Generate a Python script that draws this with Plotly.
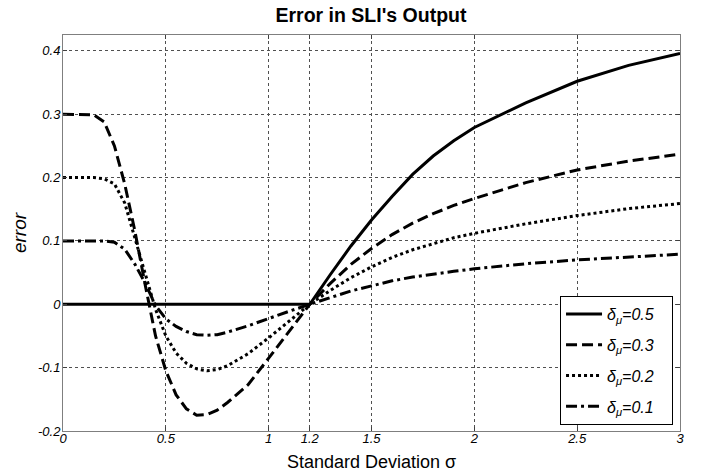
import plotly.graph_objects as go

sigma = [0, 0.1, 0.15, 0.2, 0.25, 0.3, 0.35, 0.4, 0.45, 0.5, 0.55, 0.6, 0.65, 0.7, 0.75, 0.8,
         0.9, 1.0, 1.1, 1.2, 1.3, 1.4, 1.5, 1.6, 1.7, 1.8, 1.9, 2.0, 2.25, 2.5, 2.75, 3.0]

err_05 = [0, 0, 0, 0, 0, 0, 0, 0, 0, 0, 0, 0, 0, 0, 0, 0,
          0, 0, 0, 0, 0.047, 0.092, 0.133, 0.17, 0.205, 0.234, 0.258, 0.279, 0.318, 0.352, 0.377, 0.396]
err_03 = [0.3, 0.3, 0.299, 0.288, 0.25, 0.19, 0.115, 0.03, -0.05, -0.105, -0.143, -0.165, -0.175, -0.174, -0.167, -0.155,
          -0.127, -0.085, -0.043, 0, 0.033, 0.063, 0.088, 0.11, 0.128, 0.143, 0.156, 0.167, 0.192, 0.212, 0.226, 0.237]
err_02 = [0.2, 0.2, 0.2, 0.198, 0.19, 0.16, 0.105, 0.048, -0.008, -0.05, -0.077, -0.093, -0.102, -0.105, -0.103, -0.097,
          -0.078, -0.053, -0.027, 0, 0.022, 0.042, 0.059, 0.074, 0.086, 0.096, 0.105, 0.112, 0.127, 0.14, 0.151, 0.159]
err_01 = [0.1, 0.1, 0.1, 0.1, 0.098, 0.087, 0.063, 0.033, -0.002, -0.023, -0.035, -0.043, -0.048, -0.049, -0.048, -0.044,
          -0.034, -0.022, -0.011, 0, 0.011, 0.021, 0.029, 0.037, 0.043, 0.048, 0.052, 0.056, 0.064, 0.07, 0.075, 0.079]

labels = ["0.5", "0.3", "0.2", "0.1"]
series = [err_05, err_03, err_02, err_01]
dashes = ["solid", "11px,5px", "3px,3px", "11px,4px,3px,4px"]

x_ticks = [0, 0.5, 1, 1.2, 1.5, 2, 2.5, 3]
x_ticktext = ["0", "0.5", "1", "1.2", "1.5", "2", "2.5", "3"]
y_ticks = [-0.2, -0.1, 0, 0.1, 0.2, 0.3, 0.4]
y_ticktext = ["-0.2", "-0.1", "0", "0.1", "0.2", "0.3", "0.4"]

fig = go.Figure()
for lab, ys, d in zip(labels, series, dashes):
    fig.add_trace(go.Scatter(
        x=sigma, y=ys, mode="lines",
        line=dict(color="black", width=3, dash=d),
        name="<i>δ</i><sub><i>μ</i></sub><i>=" + lab + "</i>&nbsp;&nbsp;&nbsp;",
        legendgroup=lab,
    ))

axis_common = dict(
    showline=True, linecolor="#7f7f7f", linewidth=1, mirror="ticks",
    ticks="inside", ticklen=4, tickcolor="#404040",
    showgrid=True, gridcolor="#505050", gridwidth=1, griddash="dot",
    zeroline=False, automargin=False,
    tickfont=dict(family="Liberation Sans, Arial", size=13, color="black", style="italic"),
)

fig.update_layout(
    width=708, height=476,
    margin=dict(l=63, r=28, t=35, b=45),
    paper_bgcolor="white", plot_bgcolor="white",
    title=dict(text="<b>Error in SLI's Output</b>", x=0.524, xanchor="center",
               y=0.969, yanchor="middle",
               font=dict(family="Liberation Sans, Arial", size=19.5, color="black")),
    xaxis=dict(range=[0, 3], tickvals=x_ticks, ticktext=x_ticktext, ticklabelstandoff=-5,
               title=dict(text="Standard Deviation σ", standoff=10,
                          font=dict(family="Liberation Sans, Arial", size=18, color="black")),
               **axis_common),
    yaxis=dict(range=[-0.2, 0.425], tickvals=y_ticks, ticktext=y_ticktext, ticklabelstandoff=-1,
               title=dict(text="<i>error</i>", standoff=6,
                          font=dict(family="Liberation Sans, Arial", size=19, color="black")),
               **axis_common),
    legend=dict(x=0.9887, y=0.015, xanchor="right", yanchor="bottom",
                bgcolor="white", bordercolor="black", borderwidth=1,
                font=dict(family="Liberation Sans, Arial", size=16, color="black"),
                tracegroupgap=7, itemwidth=36),
    showlegend=True,
)

fig.write_html("out.html", config={"displayModeBar": False},
               post_script="document.body.style.margin='0px';")
